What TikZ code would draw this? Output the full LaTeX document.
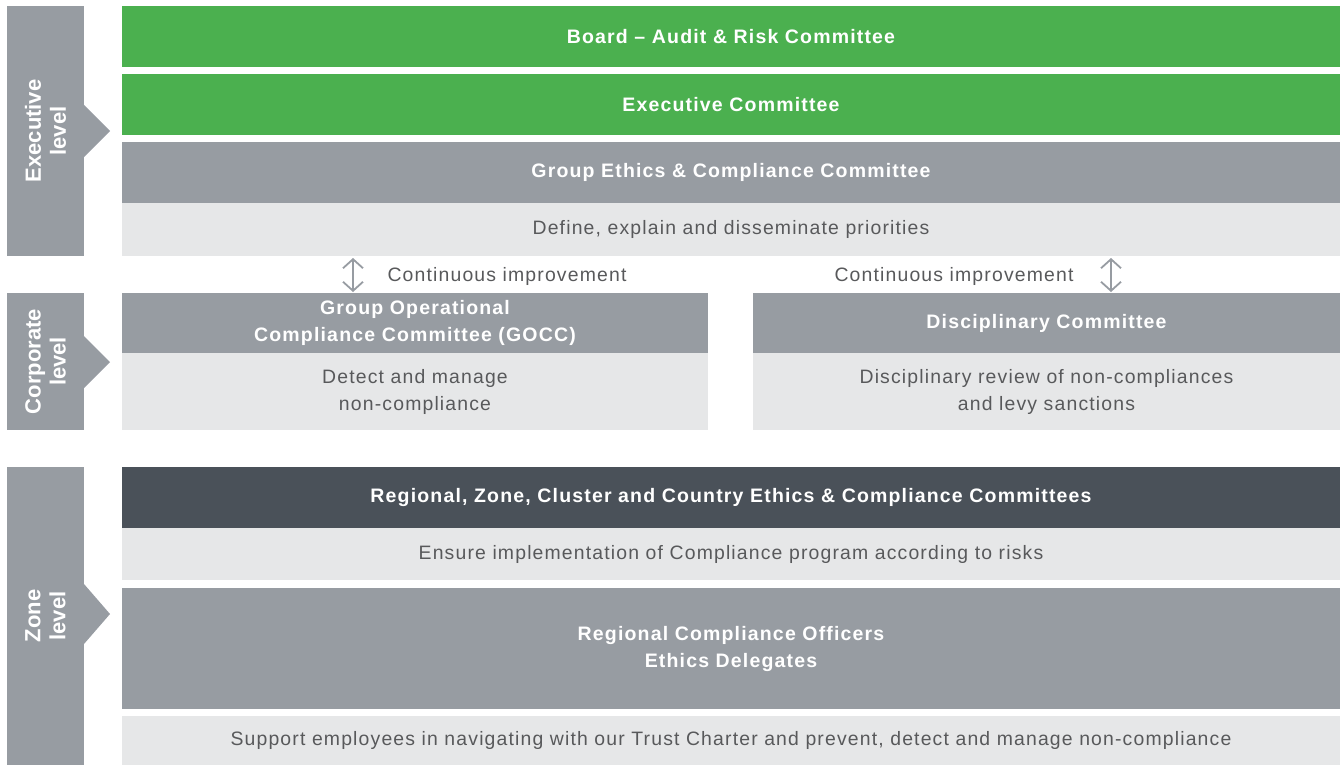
\documentclass[tikz,border=0pt]{standalone}
\usepackage{fontspec}
\setmainfont{Liberation Sans}[LetterSpace=6]
\newfontfamily\labelfont{Liberation Sans}
\usetikzlibrary{arrows.meta}
\definecolor{cgreen}{HTML}{4BB04F}
\definecolor{cgray}{HTML}{979CA2}
\definecolor{clight}{HTML}{E6E7E8}
\definecolor{cdark}{HTML}{4A5159}
\definecolor{ctext}{HTML}{58595B}
\begin{document}
\begin{tikzpicture}[x=1pt,y=-1pt,
  base/.style={anchor=north west, inner sep=0pt, outer sep=0pt, align=center},
  head/.style={base, text=white, font=\fontsize{19.5}{27}\selectfont\bfseries},
  body/.style={base, fill=clight, text=ctext, font=\fontsize{19.4}{27}\selectfont},
  greenbox/.style={head, fill=cgreen},
  graybox/.style={head, fill=cgray},
  darkbox/.style={head, fill=cdark},
  levelbar/.style={base, fill=cgray, minimum width=77pt},
  levellabel/.style={rotate=90, text=white, align=center, font=\labelfont\fontsize{22}{25}\selectfont\bfseries},
  loop/.style={draw=cgray, line width=1.8pt, {Straight Barb[length=9pt,width=20pt]}-{Straight Barb[length=9pt,width=20pt]}},
  note/.style={text=ctext, font=\fontsize{19.4}{27}\selectfont}
]
\useasboundingbox (0,0) rectangle (1340,765);

% Level bars
\node[levelbar, minimum height=250pt] (exbar) at (7,6) {};
\node[levelbar, minimum height=137pt] (cobar) at (7,293) {};
\node[levelbar, minimum height=298pt] (zobar) at (7,467) {};
\fill[cgray] (84,105) -- (110,131) -- (84,157) -- cycle;
\fill[cgray] (84,336) -- (110,362) -- (84,388) -- cycle;
\fill[cgray] (84,584) -- (110,614) -- (84,644) -- cycle;
\node[levellabel] (exlab) at (exbar.center) {Executive\\level};
\node[levellabel] (colab) at (cobar.center) {Corporate\\level};
\node[levellabel] (zolab) at (zobar.center) {Zone\\level};

% Executive level
\node[greenbox, minimum width=1218pt, minimum height=61pt] (board) at (122,6) {Board -- Audit \& Risk Committee};
\node[greenbox, minimum width=1218pt, minimum height=61pt] (exec) at (122,74) {Executive Committee};
\node[graybox, minimum width=1218pt, minimum height=61pt] (gecc) at (122,142) {Group Ethics \& Compliance Committee};
\node[body, minimum width=1218pt, minimum height=53pt] (define) at (122,203) {Define, explain and disseminate priorities};

% Corporate level
\node[graybox, minimum width=586pt, minimum height=60pt] (gocc) at (122,293) {Group Operational\\Compliance Committee (GOCC)};
\node[body, minimum width=586pt, minimum height=77pt] (detect) at (122,353) {Detect and manage\\non-compliance};
\node[graybox, minimum width=587pt, minimum height=60pt] (disc) at (753,293) {Disciplinary Committee};
\node[body, minimum width=587pt, minimum height=77pt] (review) at (753,353) {Disciplinary review of non-compliances\\and levy sanctions};

\coordinate (l1) at (353,258);
\coordinate (l2) at (353,292);
\coordinate (r1) at (1111,258);
\coordinate (r2) at (1111,292);
\draw[loop] (l1) -- (l2);
\draw[loop] (r1) -- (r2);
\node[note] (ci1) at (507,276) {Continuous improvement};
\node[note] (ci2) at (954,276) {Continuous improvement};

% Zone level
\node[darkbox, minimum width=1218pt, minimum height=61pt] (regional) at (122,467) {Regional, Zone, Cluster and Country Ethics \& Compliance Committees};
\node[body, minimum width=1218pt, minimum height=52pt] (ensure) at (122,528) {Ensure implementation of Compliance program according to risks};
\node[graybox, minimum width=1218pt, minimum height=121pt] (officers) at (122,588) {Regional Compliance Officers\\Ethics Delegates};
\node[body, minimum width=1218pt, minimum height=49pt] (support) at (122,716) {Support employees in navigating with our Trust Charter and prevent, detect and manage non-compliance};
\end{tikzpicture}
\end{document}
